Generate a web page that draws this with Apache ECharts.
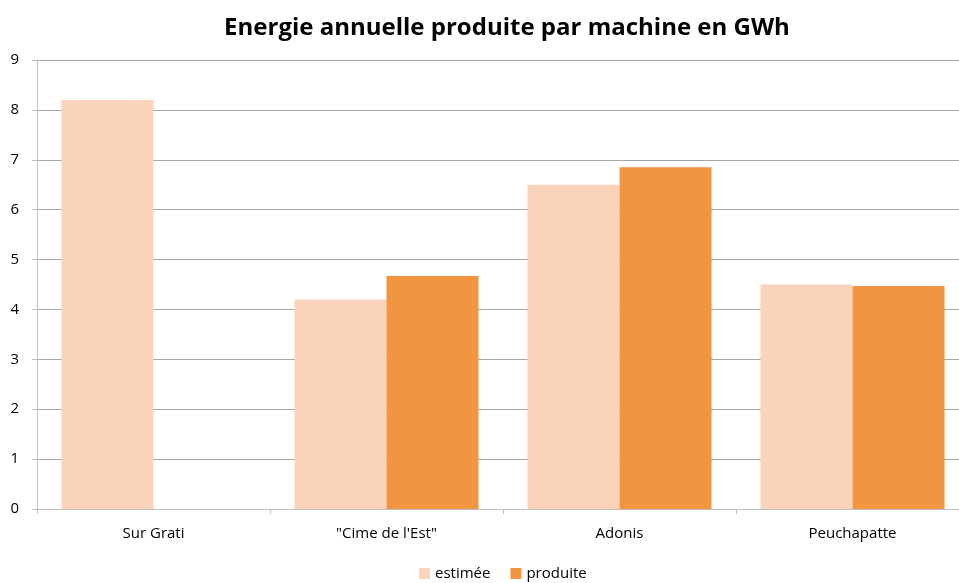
<!DOCTYPE html>
<html>
<head>
<meta charset="utf-8">
<script src="https://cdn.jsdelivr.net/npm/echarts@6/dist/echarts.min.js"></script>
<style>
  html, body { margin: 0; padding: 0; background: #fff; overflow: hidden; }
  #main { width: 970px; height: 583px; }
</style>
</head>
<body>
<div id="main"></div>
<script>
var categories = ['Sur Grati', '"Cime de l\'Est"', 'Adonis', 'Peuchapatte'];
var estimee = [8.2, 4.2, 6.5, 4.5];
var produite = [null, 4.67, 6.85, 4.47];
var yTicks = [0, 1, 2, 3, 4, 5, 6, 7, 8, 9];

var font = '"Open Sans", "DejaVu Sans", sans-serif';

// le graphique déborde un peu à droite de la fenêtre, comme l'original
var myChart = echarts.init(document.getElementById('main'));
myChart.setOption({
    backgroundColor: '#fff',
    animation: false,
    title: {
        text: 'Energie annuelle produite par machine en GWh',
        left: 502,
        textAlign: 'center',
        top: 11,
        textStyle: {
            fontFamily: font,
            fontWeight: 'bold',
            fontSize: 24,
            color: '#000'
        }
    },
    legend: {
        bottom: -3,
        left: 414,
        itemWidth: 11,
        itemHeight: 11,
        itemGap: 20,
        icon: 'rect',
        textStyle: { fontFamily: font, fontSize: 15, color: '#000' },
        data: ['estimée', 'produite']
    },
    grid: {
        left: 37,
        right: 1,
        top: 60,
        bottom: 74,
        containLabel: false
    },
    xAxis: {
        type: 'category',
        data: categories,
        axisLine: { show: true, lineStyle: { color: '#BFBFBF', width: 1 } },
        axisTick: { show: true, length: 5, lineStyle: { color: '#BFBFBF' } },
        axisLabel: { fontFamily: font, fontSize: 15, color: '#000', margin: 17 }
    },
    yAxis: {
        type: 'value',
        min: yTicks[0],
        max: yTicks[yTicks.length - 1],
        interval: 1,
        axisLine: { show: true, lineStyle: { color: '#BFBFBF', width: 1 } },
        axisTick: { show: true, length: 5, lineStyle: { color: '#BFBFBF' } },
        axisLabel: { fontFamily: font, fontSize: 15, color: '#000', margin: 18 },
        splitLine: { show: true, lineStyle: { color: '#A6A6A6', width: 1 } }
    },
    series: [{
        name: 'estimée',
        type: 'bar',
        data: estimee,
        barGap: '0%',
        barCategoryGap: '21%',
        itemStyle: { color: '#F9D4BB' }
    }, {
        name: 'produite',
        type: 'bar',
        data: produite,
        itemStyle: { color: '#F19540' }
    }]
});
</script>
</body>
</html>
